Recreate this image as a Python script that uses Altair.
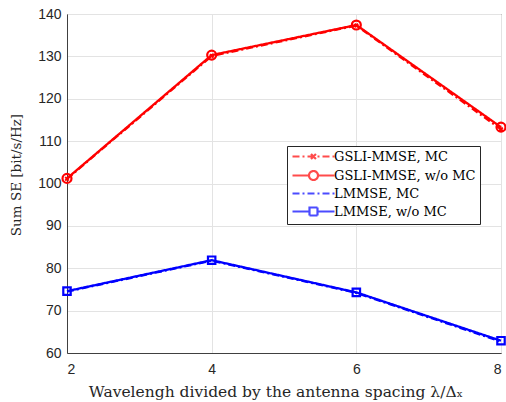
import altair as alt
import pandas as pd

x_vals = [2, 4, 6, 8]
gsli_mc = [101.1, 130.1, 137.3, 112.8]
gsli_womc = [101.2, 130.3, 137.4, 113.3]
lmmse_mc = [74.5, 81.8, 74.2, 62.7]
lmmse_womc = [74.6, 81.9, 74.3, 62.9]

series_names = ["GSLI-MMSE, MC", "GSLI-MMSE, w/o MC", "LMMSE, MC", "LMMSE, w/o MC"]
series_values = [gsli_mc, gsli_womc, lmmse_mc, lmmse_womc]
colors = ["#ff0000", "#ff0000", "#0000ff", "#0000ff"]
dashes = [[7, 3, 2, 3], [1, 0], [7, 3, 2, 3], [1, 0]]
legend_shapes = [
    "M-4.2,0H4.2M-0.5,-0.5L0.5,0.5M-0.5,0.5L0.5,-0.5",
    "M-4.2,0H-0.9M0.9,0H4.2M-0.9,0A0.9,0.9 0 1,1 0.9,0A0.9,0.9 0 1,1 -0.9,0Z",
    "M-4.2,0H4.2",
    "M-4.2,0H-0.8M0.8,0H4.2M-0.8,-0.8H0.8V0.8H-0.8Z",
]

rows = []
for name, vals in zip(series_names, series_values):
    for xv, yv in zip(x_vals, vals):
        rows.append({"x": xv, "y": yv, "series": name})
df = pd.DataFrame(rows)

xenc = alt.X("x:Q", scale=alt.Scale(domain=[2, 8], nice=False),
             axis=alt.Axis(values=x_vals, format="d",
                           title="Wavelengh divided by the antenna spacing λ/Δₓ",
                           titleFont="DejaVu Serif", titleFontSize=15.5, titleFontWeight="normal",
                           labelFont="Liberation Sans", labelFontSize=14, labelColor="#262626",
                           titleColor="#262626", ticks=False, labelPadding=9, titlePadding=8,
                           titleX=208.5,
                           domainColor="#404040", gridColor="#e3e3e3"))
yenc = alt.Y("y:Q", scale=alt.Scale(domain=[60, 140], nice=False),
             axis=alt.Axis(values=list(range(60, 141, 10)), title="Sum SE [bit/s/Hz]",
                           titleFont="DejaVu Serif", titleFontSize=13.5, titleFontWeight="normal",
                           labelFont="Liberation Sans", labelFontSize=14, labelColor="#262626",
                           titleColor="#262626", ticks=False, labelPadding=6, titlePadding=14,
                           titleY=160.5,
                           domainColor="#404040", gridColor="#e3e3e3"))

color_enc = alt.Color("series:N", scale=alt.Scale(domain=series_names, range=colors),
                      legend=alt.Legend(title=None, orient="none", legendX=220, legendY=132,
                                        labelFont="DejaVu Serif", labelFontSize=13,
                                        labelColor="#000000", symbolSize=100,
                                        symbolStrokeWidth=2.2, symbolOffset=16, labelOffset=14,
                                        rowPadding=2, padding=4, fillColor="white",
                                        strokeColor="#262626", symbolFillColor="transparent"))
dash_enc = alt.StrokeDash("series:N", scale=alt.Scale(domain=series_names, range=dashes),
                          legend=alt.Legend(title=None))
shape_enc = alt.Shape("series:N", scale=alt.Scale(domain=series_names, range=legend_shapes),
                      legend=alt.Legend(title=None))

base = alt.Chart(df)
lines = base.mark_line(strokeWidth=2.3).encode(x=xenc, y=yenc, color=color_enc, strokeDash=dash_enc)
legend_layer = base.mark_point(filled=False, strokeWidth=2).encode(
    x="x:Q", y="y:Q", color=color_enc, strokeDash=dash_enc, shape=shape_enc
).transform_filter("false")

circles = base.mark_point(shape="circle", size=80, strokeWidth=2.2, color="#ff0000", filled=False, opacity=1).encode(
    x="x:Q", y="y:Q").transform_filter(alt.datum.series == "GSLI-MMSE, w/o MC")
crosses = base.mark_point(shape="cross", size=25, color="#ff0000", filled=True, angle=45, opacity=1).encode(
    x="x:Q", y="y:Q").transform_filter(alt.datum.series == "GSLI-MMSE, MC")
squares = base.mark_point(shape="square", size=55, strokeWidth=2.2, color="#0000ff", filled=False, opacity=1).encode(
    x="x:Q", y="y:Q").transform_filter(alt.datum.series == "LMMSE, w/o MC")

chart = alt.layer(lines, crosses, circles, squares, legend_layer).properties(
    width=434, height=339,
    padding={"left": 67, "top": 14, "right": 5, "bottom": 49},
    autosize=alt.AutoSizeParams(type="none"),
    background="white",
).configure_view(stroke="#404040", strokeWidth=1)

chart.save("out.html", embed_options={"renderer": "svg", "actions": False})
